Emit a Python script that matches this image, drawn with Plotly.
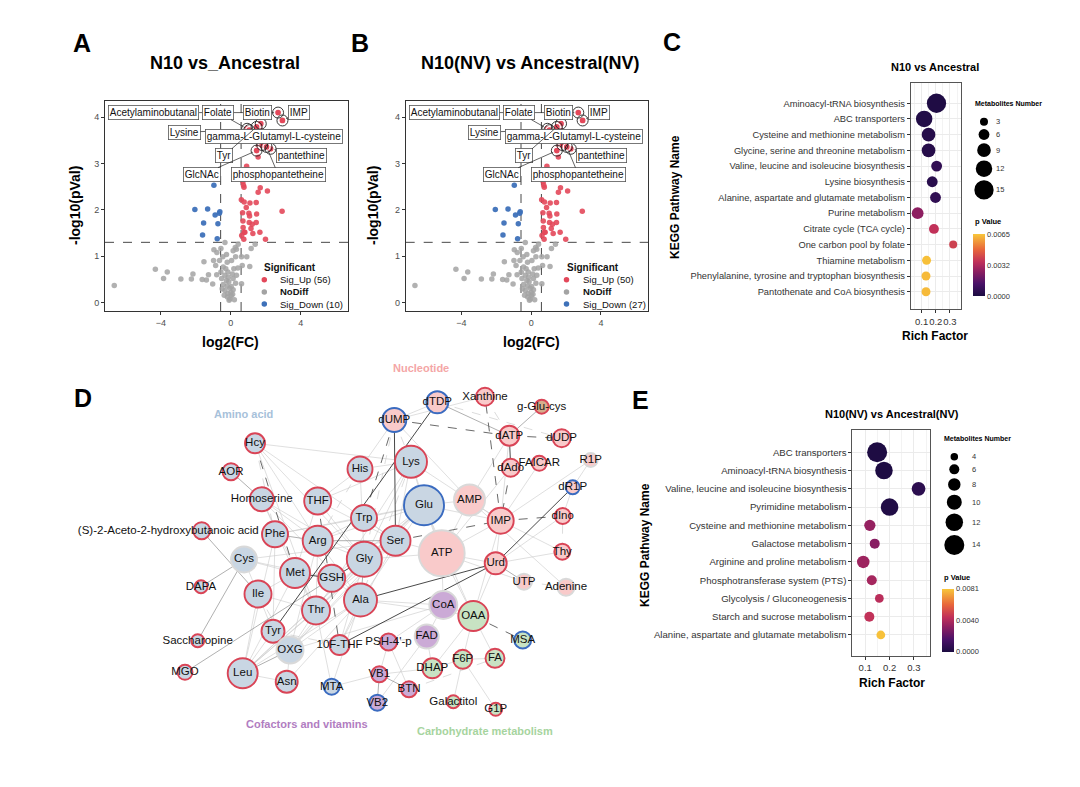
import plotly.graph_objects as go

W, H = 1080, 787
FONT = "Liberation Sans, Arial, Helvetica, sans-serif"

# ======================= DATA =======================
# ---- Volcano plots (panels A and B share the same points) ----
up_fc = [2.70, 2.95, 1.71, 1.47, 0.93, 1.05, 1.66, 1.79, 1.56, 1.47, 2.27, 2.04, 1.56, 0.90,
         0.69, 0.72, 0.75, 1.68, 1.56, 2.09, 0.60, 0.76, 1.09, 1.45, 2.93, 0.67, 1.03, 1.07,
         1.47, 0.69, 1.05, 1.22, 1.45, 0.70, 0.76, 0.80, 1.26, 1.66, 0.74, 1.98, 0.62, 0.88, 1.15]
up_logp = [4.10, 3.93, 3.86, 3.79, 3.75, 3.72, 3.75, 3.40, 3.36, 3.28, 3.32, 3.36, 3.14, 2.94,
           2.61, 2.53, 2.49, 2.48, 2.38, 2.41, 2.22, 2.17, 2.15, 2.16, 1.97, 1.94, 1.93, 1.87,
           1.91, 1.76, 1.73, 1.69, 1.73, 1.62, 1.52, 1.52, 1.49, 1.52, 1.37, 1.37, 1.45, 2.05, 1.60]
down_fc = [-0.97, -2.06, -1.33, -0.90, -0.63, -1.56, -0.74, -1.62, -0.78, -0.66]
down_logp = [2.53, 2.01, 2.02, 1.89, 1.96, 1.72, 1.70, 1.46, 1.38, 1.93]
nodiff_fc = [-6.67, -4.32, -3.64, -3.85, -2.86, -2.17, -2.26, -1.64, -1.54, -1.28, -1.40, -0.97,
             -0.80, -0.99, -0.87, -1.04, -0.81, -0.57, -0.34, -0.25, -0.46, -0.65, -0.21, -0.44,
             -0.29, -0.57, -0.17, -0.34, -0.53, -0.25, -0.44, -0.21, -0.06, -0.34, -0.17, 0.02,
             -0.06, 0.13, 0.27, 0.13, 0.32, 0.17, 0.40, 0.04, 0.27, 0.13, 0.25, 0.42, 0.32, 0.61,
             0.65, 0.61, 0.91, 1.16, 1.39, 1.08, 0.02, -0.12, 0.08, -0.10, 0.00, -0.20, 0.10,
             -0.38, -0.50, 0.20, -0.15]
nodiff_logp = [0.37, 0.72, 0.66, 0.52, 0.51, 0.62, 0.51, 0.50, 0.88, 0.60, 0.49, 1.14,
               1.08, 0.91, 0.80, 0.40, 0.60, 1.17, 1.30, 1.04, 0.99, 0.91, 0.87, 0.77,
               0.73, 0.66, 0.66, 0.59, 0.52, 0.48, 0.39, 0.36, 0.31, 0.26, 0.20, 0.15,
               0.08, 0.28, 0.42, 0.52, 0.59, 0.73, 0.75, 0.91, 0.99, 1.12, 1.19, 1.26, 1.15, 0.99,
               0.80, 0.41, 0.99, 1.17, 1.26, 0.78, 0.35, 0.45, 0.62, 0.05, 0.22, 0.12, 0.18,
               0.16, 0.30, 0.06, 0.55]
hit_names = ["Acetylaminobutanal", "Folate", "Biotin", "IMP", "Lysine",
             "gamma-L-Glutamyl-L-cysteine", "Tyr", "pantethine", "GlcNAc", "phosphopantetheine"]
hit_fc = [2.70, 0.93, 1.71, 2.95, 1.05, 1.79, 1.47, 2.27, 1.47, 2.04]
hit_logp = [4.10, 3.75, 3.86, 3.93, 3.72, 3.40, 3.79, 3.32, 3.28, 3.36]
fc_cut = 0.585
logp_cut = 1.301
volcano_titles = ["N10 vs_Ancestral", "N10(NV) vs Ancestral(NV)"]
n_up = [56, 50]
n_down = [10, 27]

# ---- KEGG enrichment, panel C ----
c_title = "N10 vs Ancestral"
c_path = ["Aminoacyl-tRNA biosynthesis", "ABC transporters", "Cysteine and methionine metabolism",
          "Glycine, serine and threonine metabolism", "Valine, leucine and isoleucine biosynthesis",
          "Lysine biosynthesis", "Alanine, aspartate and glutamate metabolism", "Purine metabolism",
          "Citrate cycle (TCA cycle)", "One carbon pool by folate", "Thiamine metabolism",
          "Phenylalanine, tyrosine and tryptophan biosynthesis", "Pantothenate and CoA biosynthesis"]
c_rich = [0.205, 0.118, 0.149, 0.149, 0.206, 0.175, 0.198, 0.072, 0.187, 0.323, 0.135, 0.131, 0.131]
c_count = [15, 12, 9, 9, 6, 6, 6, 7, 5, 3, 4, 4, 4]
c_p = [0.0001, 0.0002, 0.0003, 0.0003, 0.0006, 0.0004, 0.0006, 0.0026, 0.0036, 0.0040,
       0.0064, 0.0063, 0.0063]
c_size_keys = [3, 6, 9, 12, 15]
c_p_ticks = [0.0, 0.0032, 0.0065]

# ---- KEGG enrichment, panel E ----
e_title = "N10(NV) vs Ancestral(NV)"
e_path = ["ABC transporters", "Aminoacyl-tRNA biosynthesis", "Valine, leucine and isoleucine biosynthesis",
          "Pyrimidine metabolism", "Cysteine and methionine metabolism", "Galactose metabolism",
          "Arginine and proline metabolism", "Phosphotransferase system (PTS)",
          "Glycolysis / Gluconeogenesis", "Starch and sucrose metabolism",
          "Alanine, aspartate and glutamate metabolism"]
e_rich = [0.149, 0.177, 0.319, 0.200, 0.119, 0.139, 0.092, 0.127, 0.158, 0.117, 0.164]
e_count = [14, 12, 9, 12, 7, 6, 8, 6, 5, 6, 5]
e_p = [0.0001, 0.0001, 0.0006, 0.0002, 0.0034, 0.0031, 0.0036, 0.0038, 0.0043, 0.0045, 0.0080]
e_size_keys = [4, 6, 8, 10, 12, 14]
e_p_ticks = [0.0, 0.0040, 0.0081]

# ---- Network, panel D ----
node_names = ["Hcy", "AOR", "Homoserine", "THF", "(S)-2-Aceto-2-hydroxybutanoic acid", "Phe", "Arg",
              "Cys", "His", "Lys", "Trp", "Ser", "Glu", "Gly", "Met", "GSH", "Ile", "Ala", "Thr",
              "Tyr", "OXG", "Leu", "Asn", "DAPA", "Saccharopine", "MGO", "10F-THF", "MTA",
              "dTDP", "dUMP", "Xanthine", "g-Glu-cys", "dATP", "dUDP", "dAdo", "FAICAR", "R1P",
              "dR1P", "AMP", "IMP", "dIno", "ATP", "Thy", "Urd", "UTP", "Adenine",
              "CoA", "OAA", "FAD", "PSH-4'-p", "MSA", "F6P", "FA", "DHAP", "VB1", "BTN", "VB2",
              "Galactitol", "G1P"]
node_class = (["aa"] * 28 + ["nuc"] * 3 + ["oth"] + ["nuc"] * 14 +
              ["cof", "carb", "cof", "cof", "carb", "carb", "carb", "carb", "cof", "cof", "cof",
               "carb", "carb"])
node_reg = ["up", "up", "up", "up", "up", "up", "up", "none", "up", "up", "up", "up", "down", "up",
            "up", "up", "up", "up", "up", "up", "none", "up", "up", "up", "up", "up", "up", "down",
            "down", "down", "up", "up", "up", "up", "up", "up", "none", "down", "none", "up", "up",
            "none", "up", "up", "none", "none",
            "none", "up", "none", "up", "down", "up", "up", "up", "up", "up", "down", "up", "up"]
node_size = [20, 17, 24, 27, 17, 26, 30, 26, 25, 32, 26, 30, 40, 35, 30, 27, 27, 33, 28, 23, 27,
             30, 22, 13, 13, 15, 20, 16, 22, 24, 18, 14, 20, 18, 18, 15, 14, 14, 31, 26, 16, 46,
             16, 22, 16, 17, 28, 30, 24, 17, 17, 19, 19, 20, 16, 16, 16, 13, 13]
# network layout (node centres, canvas units)
node_layout = {
    "Hcy": (255, 443.3), "AOR": (231, 471.7), "Homoserine": (261.7, 499.3), "THF": (317.7, 501),
    "(S)-2-Aceto-2-hydroxybutanoic acid": (201.7, 530.7), "Phe": (275, 534.3), "Arg": (317.7, 540.7),
    "Cys": (244, 559.5), "His": (360, 469), "Lys": (411, 461.7), "Trp": (364, 518), "Ser": (395.5, 540.7),
    "Glu": (424, 505.3), "Gly": (364.3, 559.3), "Met": (295, 573), "GSH": (331.7, 578.3),
    "Ile": (258, 594), "Ala": (360.5, 600), "Thr": (316, 610.5), "Tyr": (273, 631.3),
    "OXG": (290, 650), "Leu": (242.7, 673.3), "Asn": (286.7, 681.7), "DAPA": (201, 586.7),
    "Saccharopine": (197.7, 640.7), "MGO": (185, 672.3), "10F-THF": (339.5, 645), "MTA": (331.7, 686.7),
    "dTDP": (437.3, 402.3), "dUMP": (394.3, 420), "Xanthine": (485, 396.7), "g-Glu-cys": (541.7, 406.7),
    "dATP": (509.3, 435.7), "dUDP": (561.7, 438.3), "dAdo": (510.7, 467.7), "FAICAR": (539.3, 463.3),
    "R1P": (590.7, 460), "dR1P": (572.7, 487.3), "AMP": (469.5, 500), "IMP": (500.7, 520.7),
    "dIno": (562.7, 516), "ATP": (441.7, 553.3), "Thy": (562.3, 551.7), "Urd": (495.7, 563.3),
    "UTP": (524, 581.7), "Adenine": (566, 587.3), "CoA": (443.3, 605), "OAA": (473.3, 616),
    "FAD": (426.7, 636.5), "PSH-4'-p": (388.5, 642), "MSA": (522.7, 640), "F6P": (462.7, 659.3),
    "FA": (495, 658.3), "DHAP": (432.3, 668.3), "VB1": (379.3, 674.3), "BTN": (409, 689.3),
    "VB2": (377.3, 702.7), "Galactitol": (453.3, 701.7), "G1P": (495.7, 709.3),
}
label_shift = {"(S)-2-Aceto-2-hydroxybutanoic acid": -33.4}
edges_strong = [("dUMP", "Ser"), ("dTDP", "Tyr"), ("Ala", "Urd"), ("10F-THF", "Urd"), ("dATP", "dAdo"),
                ("dR1P", "Urd"), ("Met", "GSH"), ("GSH", "Gly")]
edges_strong_dash = [("Ser", "IMP"), ("IMP", "dIno"), ("IMP", "Xanthine"), ("dAdo", "IMP"), ("OAA", "MSA"),
                     ("dUMP", "dATP"), ("dATP", "dUDP"), ("THF", "10F-THF"), ("dUMP", "Trp"), ("Hcy", "Met")]
edges_mid = [("MGO", "GSH"), ("Saccharopine", "Cys"), ("DAPA", "Cys"), ("AOR", "Homoserine"),
             ("(S)-2-Aceto-2-hydroxybutanoic acid", "Ile"), ("g-Glu-cys", "dATP"), ("Urd", "UTP"),
             ("Arg", "Ser"), ("Phe", "Arg"), ("Gly", "Ala"), ("Leu", "OXG"), ("VB1", "VB2"),
             ("BTN", "VB1"), ("dATP", "dTDP")]
edges_light = [("Hcy", "Arg"), ("Hcy", "Thr"), ("Hcy", "Lys"), ("Hcy", "Gly"), ("Hcy", "Ser"),
               ("Homoserine", "Thr"), ("Homoserine", "Met"), ("Homoserine", "Arg"), ("Homoserine", "Gly"),
               ("Homoserine", "Ala"), ("THF", "Gly"), ("THF", "Ser"), ("THF", "Met"), ("THF", "His"),
               ("THF", "Lys"), ("Phe", "Tyr"), ("Phe", "Trp"), ("Phe", "Glu"), ("Phe", "Leu"),
               ("Arg", "Glu"), ("Arg", "Gly"), ("Arg", "Thr"), ("Arg", "Ala"), ("Arg", "OXG"),
               ("Gly", "Ser"), ("Gly", "Thr"), ("Gly", "Glu"), ("Gly", "Lys"), ("Gly", "OXG"),
               ("Met", "Cys"), ("Met", "Ile"), ("Met", "Thr"), ("Met", "Leu"), ("GSH", "Glu"),
               ("GSH", "Cys"), ("GSH", "Ala"), ("Ala", "Glu"), ("Ala", "OAA"), ("Ala", "Leu"),
               ("Ala", "OXG"), ("Ala", "CoA"), ("Ala", "Asn"), ("Thr", "Ile"), ("Thr", "Leu"),
               ("Thr", "OXG"), ("Leu", "Ile"), ("Leu", "Glu"), ("Leu", "Gly"), ("Leu", "Ser"),
               ("OXG", "Glu"), ("OXG", "Asn"), ("OXG", "Tyr"), ("OXG", "Ser"), ("OXG", "CoA"),
               ("Tyr", "Ile"), ("Lys", "His"), ("Lys", "Glu"), ("Lys", "IMP"), ("Lys", "Ser"),
               ("Trp", "Ser"), ("Trp", "Glu"), ("Glu", "OAA"), ("Glu", "IMP"), ("Glu", "AMP"),
               ("AMP", "IMP"), ("AMP", "ATP"), ("AMP", "dATP"), ("AMP", "Adenine"), ("AMP", "dUMP"),
               ("ATP", "IMP"), ("ATP", "UTP"), ("ATP", "CoA"), ("ATP", "Ser"), ("ATP", "Glu"),
               ("ATP", "Gly"), ("ATP", "Urd"), ("ATP", "dAdo"), ("ATP", "OAA"), ("IMP", "FAICAR"),
               ("IMP", "R1P"), ("IMP", "Thy"), ("IMP", "Urd"), ("IMP", "OAA"), ("IMP", "dATP"),
               ("dUMP", "His"), ("dUMP", "Xanthine"), ("dUMP", "dTDP"), ("Urd", "Thy"), ("Urd", "OAA"),
               ("Urd", "dIno"), ("dR1P", "dIno"), ("dR1P", "R1P"), ("OAA", "FA"), ("OAA", "F6P"),
               ("OAA", "DHAP"), ("OAA", "CoA"), ("CoA", "FAD"), ("CoA", "PSH-4'-p"), ("FAD", "VB2"),
               ("FAD", "DHAP"), ("PSH-4'-p", "VB1"), ("PSH-4'-p", "BTN"), ("VB1", "DHAP"),
               ("DHAP", "F6P"), ("F6P", "FA"), ("MTA", "Ala"), ("MTA", "Thr"), ("MTA", "VB1"),
               ("Galactitol", "F6P"), ("G1P", "F6P"), ("10F-THF", "Gly"), ("10F-THF", "Ser"),
               ("10F-THF", "Ala"), ("Asn", "Leu"), ("Cys", "Ile"), ("Tyr", "Leu"), ("Cys", "Ser"),
               ("Lys", "ATP"), ("His", "Gly"), ("Trp", "Arg"), ("Glu", "Thr"), ("Lys", "Thr")]
edges_light_dash = [("UTP", "Adenine"), ("BTN", "FA"), ("FAD", "PSH-4'-p"), ("dTDP", "dUDP"),
                    ("Thy", "dIno"), ("Hcy", "Phe"), ("dUMP", "Gly"), ("dUMP", "Lys"), ("Lys", "Ala"),
                    ("His", "Arg"), ("Xanthine", "dATP"), ("Tyr", "10F-THF"), ("Ile", "OXG")]
class_fill = {"aa": "#C9D6E3", "nuc": "#F9CACA", "cof": "#CBAAD6", "carb": "#C8E3C3", "oth": "#D6AD8C"}
reg_line = {"up": "#D94456", "down": "#3A6BC0", "none": "#D9D9D9"}
group_labels = ["Amino acid", "Nucleotide", "Cofactors and vitamins", "Carbohydrate metabolism"]
group_colors = ["#A7C1DA", "#F4A6A6", "#B17DC1", "#A6D49E"]
group_label_pos = [(243.3, 414.3), (421, 368), (306.7, 724), (485, 731)]

# ======================= FIGURE =======================
RED, BLUE, GRAY = "#E3485A", "#3E71B9", "#A3A3A3"
CS = [[0.0, "#1B0C41"], [0.2, "#4A1268"], [0.4, "#8E1F61"], [0.55, "#C0305A"],
      [0.75, "#E8663B"], [1.0, "#F8C63A"]]

fig = go.Figure()
shapes, annos = [], []


def pxx(x):
    return x / W


def pyy(y):
    return 1 - y / H


def txt(x, y, s, size, color="#000", bold=False, xanchor="center", angle=0):
    annos.append(dict(x=pxx(x), y=pyy(y), xref="paper", yref="paper",
                      text=f"<b>{s}</b>" if bold else s, showarrow=False,
                      font=dict(family=FONT, size=size, color=color),
                      xanchor=xanchor, yanchor="middle", textangle=angle))


def circ(cx, cy, d, fill, line=None, lw=0):
    shapes.append(dict(type="circle", xref="paper", yref="paper",
                       x0=pxx(cx - d / 2), x1=pxx(cx + d / 2), y0=pyy(cy + d / 2), y1=pyy(cy - d / 2),
                       fillcolor=fill, line=dict(width=lw, color=line or fill), layer="above"))


# ---------- Volcano A & B ----------
vol_left = [105, 405.7]
vol_right = [348, 648]
vol_title_x = [225, 529.5]
vol_ytitle_x = [75, 373]
vol_xtitle_x = [230, 531]
leg_left = [262.3, 564.5]
# ggrepel label placement (data units)
repel_fc = [-4.4, -0.71, 1.54, 3.87, -2.66, 2.46, -0.40, 4.03, -1.66, 2.71]
repel_logp = [4.10, 4.10, 4.10, 4.10, 3.68, 3.58, 3.17, 3.17, 2.76, 2.76]

for k in range(2):
    xa = "x" if k == 0 else "x2"
    ya = "y" if k == 0 else "y2"
    common = dict(mode="markers", xaxis=xa, yaxis=ya, showlegend=False, hoverinfo="skip")
    fig.add_trace(go.Scatter(x=nodiff_fc, y=nodiff_logp, marker=dict(size=5.5, color=GRAY, opacity=0.85), **common))
    fig.add_trace(go.Scatter(x=down_fc, y=down_logp, marker=dict(size=5.5, color=BLUE, opacity=0.95), **common))
    fig.add_trace(go.Scatter(x=up_fc, y=up_logp, marker=dict(size=5.5, color=RED, opacity=0.9), **common))
    fig.add_trace(go.Scatter(x=hit_fc, y=hit_logp, marker=dict(size=7, color=RED, line=dict(width=1.3, color="white")), **common))
    fig.add_trace(go.Scatter(x=hit_fc, y=hit_logp, marker=dict(size=11, symbol="circle-open", color="#222", line=dict(width=0.9)), **common))
    for sgn in (-1, 1):
        shapes.append(dict(type="line", xref=xa, yref=f"{ya} domain", x0=sgn * fc_cut, x1=sgn * fc_cut,
                           y0=0, y1=1, line=dict(color="#333", width=0.9, dash="dash"), layer="below"))
    shapes.append(dict(type="line", xref=f"{xa} domain", yref=ya, x0=0, x1=1, y0=logp_cut, y1=logp_cut,
                       line=dict(color="#333", width=0.9, dash="dash"), layer="below"))
    for i, nm in enumerate(hit_names):
        annos.append(dict(x=hit_fc[i], y=hit_logp[i], xref=xa, yref=ya, ax=repel_fc[i], ay=repel_logp[i],
                          axref=xa, ayref=ya, text=nm, showarrow=True, arrowhead=0, arrowwidth=0.7,
                          arrowcolor="#222", standoff=4, font=dict(family=FONT, size=10, color="#111"),
                          bgcolor="white", bordercolor="#555", borderwidth=0.8, borderpad=1))
    txt(vol_title_x[k], 63, volcano_titles[k], 18, bold=True)
    txt(vol_ytitle_x[k], 206, "-log10(pVal)", 14, bold=True, angle=-90)
    txt(vol_xtitle_x[k], 342, "log2(FC)", 14, bold=True)
    L = leg_left[k]
    txt(L, 267, "Significant", 10, color="#111", bold=True, xanchor="left")
    items = [(f"Sig_Up ({n_up[k]})", RED, False), ("NoDiff", GRAY, True), (f"Sig_Down ({n_down[k]})", BLUE, False)]
    for j, (lab, col, b) in enumerate(items):
        yy = 279.7 + j * 12.2
        circ(L + 2, yy, 5.5, col)
        txt(L + 16, yy, lab, 9.5, color="#111", bold=b, xanchor="left")

vol_x = dict(range=[-7.2, 6.7], tickvals=[-4, 0, 4], showgrid=False, zeroline=False, showline=True,
             mirror=True, linecolor="#333", linewidth=0.8, ticks="outside", ticklen=3, tickcolor="#333",
             tickwidth=0.8, tickfont=dict(family=FONT, size=9, color="#4d4d4d"), automargin=False)
vol_y = dict(range=[-0.18, 4.35], tickvals=[0, 1, 2, 3, 4], showgrid=False, zeroline=False, showline=True,
             mirror=True, linecolor="#333", linewidth=0.8, ticks="outside", ticklen=3, tickcolor="#333",
             tickwidth=0.8, tickfont=dict(family=FONT, size=9, color="#4d4d4d"), automargin=False)


# ---------- Bubble panels C & E ----------
def size_c(n):
    return 5.2 + 0.94 * n


def size_e(n):
    return 2.5 + 1.25 * n


def bubble(path, rich, cnt, pv, xa, ya, sfun, cmax, cbx, cby, cblen, cbth, ticks):
    fig.add_trace(go.Scatter(
        x=rich, y=path, mode="markers", xaxis=xa, yaxis=ya, showlegend=False, hoverinfo="skip",
        marker=dict(size=[sfun(n) for n in cnt], color=pv, cmin=0, cmax=cmax, colorscale=CS,
                    line=dict(width=0), showscale=True, opacity=1,
                    colorbar=dict(x=pxx(cbx), xanchor="left", y=pyy(cby), yanchor="middle",
                                  len=cblen, lenmode="pixels", thickness=cbth, thicknessmode="pixels",
                                  tickvals=ticks, ticktext=[f"{t:.4f}" for t in ticks], ticks="",
                                  tickfont=dict(family=FONT, size=7.5, color="#333"),
                                  outlinewidth=0, xpad=0, ypad=0))))


bubble(c_path, c_rich, c_count, c_p, "x3", "y3", size_c, 0.0065, 972.7, 265, 62, 12.3, c_p_ticks)
bubble(e_path, e_rich, e_count, e_p, "x4", "y4", size_e, 0.0081, 942.3, 620.3, 62.7, 11.7, e_p_ticks)


def bub_axes(rng, cats, yr, yfs):
    xa = dict(range=rng, tickvals=[0.1, 0.2, 0.3], ticktext=["0.1", "0.2", "0.3"], tickangle=0,
              showgrid=True, gridcolor="#EBEBEB", gridwidth=0.8, zeroline=False, showline=True,
              mirror=True, linecolor="#555", linewidth=0.8, ticks="outside", ticklen=3,
              tickcolor="#333", tickwidth=0.7, tickfont=dict(family=FONT, size=9.5, color="#333"),
              automargin=False,
              minor=dict(tick0=0.05, dtick=0.1, showgrid=True, gridcolor="#F3F3F3", gridwidth=0.6))
    ya = dict(type="category", categoryorder="array", categoryarray=list(reversed(cats)), range=yr,
              showgrid=True, gridcolor="#EBEBEB", gridwidth=0.8, zeroline=False, showline=True,
              mirror=True, linecolor="#555", linewidth=0.8, ticks="outside", ticklen=3,
              tickcolor="#333", tickwidth=0.7, tickfont=dict(family=FONT, size=yfs, color="#333"),
              automargin=False)
    return xa, ya


x3, y3 = bub_axes([0.023, 0.378], c_path, [-1.12, 13.27], 9.3)
x4, y4 = bub_axes([0.047, 0.366], e_path, [-1.15, 11.22], 9.6)

txt(935, 67, c_title, 11, bold=True)
txt(675, 197, "KEGG Pathway Name", 12, bold=True, angle=-90)
txt(935, 336, "Rich Factor", 12, bold=True)
txt(973, 103.3, "Metabolites Number", 7, bold=True, xanchor="left")
txt(973, 221.7, "p Value", 7.5, bold=True, xanchor="left")
txt(891.7, 414, e_title, 11, bold=True)
txt(645, 545, "KEGG Pathway Name", 12, bold=True, angle=-90)
txt(891.7, 682.7, "Rich Factor", 12, bold=True)
txt(942.3, 438.3, "Metabolites Number", 7, bold=True, xanchor="left")
txt(942.3, 577.3, "p Value", 7.5, bold=True, xanchor="left")


def size_keys(vals, sfun, cx, y0, gap, lx):
    y = y0
    prev = None
    for v in vals:
        d = sfun(v)
        if prev is not None:
            y += (prev + d) / 2 + gap
        circ(cx, y, d, "#000")
        txt(lx, y, str(v), 7.5, color="#333", xanchor="left")
        prev = d


size_keys(c_size_keys, size_c, 984, 121.7, 3.4, 994.3)
size_keys(e_size_keys, size_e, 954.3, 456.7, 3.9, 970)

# ---------- Network D ----------
edge_styles = [(edges_light, "#C9C9C9", 0.6, "solid"), (edges_light_dash, "#C4C4C4", 0.6, "dash"),
               (edges_mid, "#8E8E8E", 0.7, "solid"), (edges_strong_dash, "#444", 0.8, "dash"),
               (edges_strong, "#333", 0.9, "solid")]
for elist, col, wd, dash in edge_styles:
    ex, ey = [], []
    for a, b in elist:
        ex += [node_layout[a][0], node_layout[b][0], None]
        ey += [node_layout[a][1], node_layout[b][1], None]
    fig.add_trace(go.Scatter(x=ex, y=ey, mode="lines", xaxis="x5", yaxis="y5", showlegend=False,
                             hoverinfo="skip", line=dict(color=col, width=wd, dash=dash)))

nx = [node_layout[n][0] for n in node_names]
ny = [node_layout[n][1] for n in node_names]
fig.add_trace(go.Scatter(
    x=nx, y=ny, mode="markers", xaxis="x5", yaxis="y5", showlegend=False, hoverinfo="skip",
    marker=dict(size=node_size, color=[class_fill[c] for c in node_class],
                line=dict(color=[reg_line[r] for r in node_reg], width=1.9), opacity=1)))
fig.add_trace(go.Scatter(
    x=[node_layout[n][0] + label_shift.get(n, 0) for n in node_names], y=ny, mode="text",
    text=node_names, textposition="middle center", xaxis="x5", yaxis="y5", showlegend=False,
    hoverinfo="skip", textfont=dict(family=FONT, size=11.5, color="#111")))
for lab, col, (gx, gy) in zip(group_labels, group_colors, group_label_pos):
    annos.append(dict(x=gx, y=gy, xref="x5", yref="y5", text=f"<b>{lab}</b>", showarrow=False,
                      font=dict(family=FONT, size=11, color=col)))

# ---------- Panel letters ----------
for letter, (lx, ly) in zip("ABCDE", [(82, 43), (360, 43), (672, 42), (82.5, 398), (640, 400)]):
    txt(lx, ly, letter, 25, bold=True)

hidden = dict(visible=False, showgrid=False, zeroline=False, automargin=False)
fig.update_layout(
    template="none", width=W, height=H, margin=dict(l=0, r=0, t=0, b=0),
    paper_bgcolor="white", plot_bgcolor="white", showlegend=False,
    font=dict(family=FONT, color="#000"),
    xaxis=dict(domain=[pxx(vol_left[0]), pxx(vol_right[0])], anchor="y", **vol_x),
    yaxis=dict(domain=[pyy(311), pyy(101)], anchor="x", **vol_y),
    xaxis2=dict(domain=[pxx(vol_left[1]), pxx(vol_right[1])], anchor="y2", **vol_x),
    yaxis2=dict(domain=[pyy(311), pyy(101)], anchor="x2", **vol_y),
    xaxis3=dict(domain=[pxx(910.7), pxx(961)], anchor="y3", **x3),
    yaxis3=dict(domain=[pyy(309.3), pyy(83.3)], anchor="x3", **y3),
    xaxis4=dict(domain=[pxx(852.3), pxx(930)], anchor="y4", **x4),
    yaxis4=dict(domain=[pyy(656), pyy(430)], anchor="x4", **y4),
    xaxis5=dict(domain=[pxx(60), pxx(620)], anchor="y5", range=[60, 620], **hidden),
    yaxis5=dict(domain=[pyy(770), pyy(360)], anchor="x5", range=[770, 360], **hidden),
    shapes=shapes, annotations=annos,
)

fig.write_html("out.html", config={"displayModeBar": False},
               post_script="document.body.style.margin='0';document.body.style.overflow='hidden';")
